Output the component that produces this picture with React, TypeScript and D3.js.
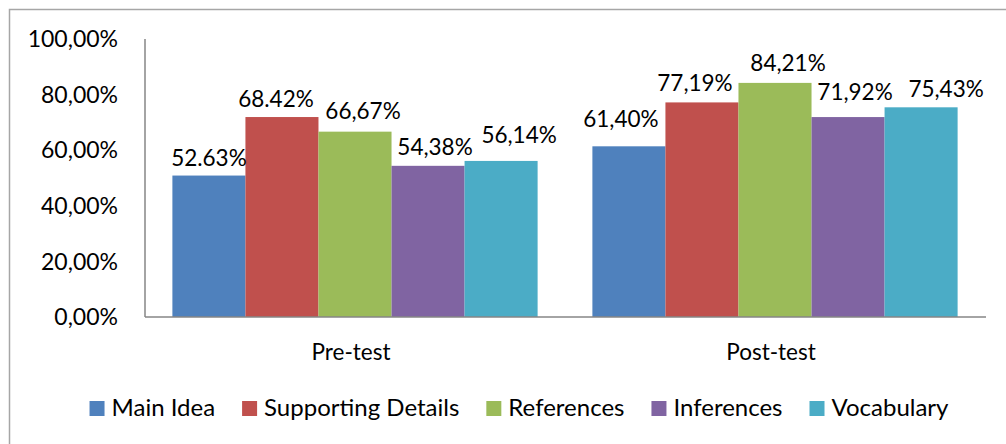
import React, { useEffect, useRef } from 'react';
import * as d3 from 'd3';

const categories = ['Pre-test', 'Post-test'];
const series = ['Main Idea', 'Supporting Details', 'References', 'Inferences', 'Vocabulary'];
const colors = ['#4F81BD', '#C0504D', '#9BBB59', '#8064A2', '#4BACC6'];

// bar heights (percent)
const preValues = [50.88, 71.93, 66.67, 54.38, 56.14];
const postValues = [61.40, 77.19, 84.21, 71.92, 75.43];

// data labels as printed on the chart
const preLabels = ['52.63%', '68.42%', '66,67%', '54,38%', '56,14%'];
const postLabels = ['61,40%', '77,19%', '84,21%', '71,92%', '75,43%'];

const yTicks = [0, 20, 40, 60, 80, 100];
const yTickLabels = ['0,00%', '20,00%', '40,00%', '60,00%', '80,00%', '100,00%'];

const W = 1006;
const H = 444;
const FONT = 'Lato, "Open Sans", sans-serif';

const App: React.FC = () => {
  const svgRef = useRef<SVGSVGElement>(null);

  useEffect(() => {
    if (!svgRef.current) return;
    document.body.style.margin = '0';
    const svg = d3.select(svgRef.current);
    svg.selectAll('*').remove();

    const plot = { left: 145, right: 985, top: 39, bottom: 317 };

    // outer chart frame (cropped on the right and bottom)
    svg.append('rect')
      .attr('x', 9.5).attr('y', 9.5)
      .attr('width', 1100).attr('height', 600)
      .attr('fill', '#fff')
      .attr('stroke', '#a6a6a6').attr('stroke-width', 1.5);

    // --- SCALES ---
    const x0 = d3.scaleBand().domain(categories).range([plot.left, plot.right]).padding(0);
    const x1 = d3.scaleBand().domain(series).range([0, x0.bandwidth()]).paddingOuter(0.375).paddingInner(0);
    const y = d3.scaleLinear().domain([0, 100]).range([plot.bottom, plot.top]);

    // --- Y TICK LABELS ---
    svg.append('g').selectAll('text')
      .data(yTicks)
      .enter()
      .append('text')
      .attr('x', 118)
      .attr('y', d => y(d))
      .attr('dy', '0.36em')
      .attr('text-anchor', 'end')
      .attr('font-family', FONT)
      .attr('font-size', 23)
      .attr('fill', '#000')
      .text((d, i) => yTickLabels[i]);

    // --- BARS ---
    const groups = [preValues, postValues];
    const labels = [preLabels, postLabels];
    // small manual label nudges seen in the original (dx, extra gap above bar)
    const nudge = [
      [[0, 0], [-6, 0], [8, 3], [7, 1], [18, 8]],
      [[-8, 9], [-7, 1], [13, 2], [7, 7], [25, 0]],
    ];

    groups.forEach((vals, gi) => {
      const gx = x0(categories[gi]) || 0;
      const g = svg.append('g').attr('transform', `translate(${gx},0)`);
      g.selectAll('rect')
        .data(vals)
        .enter()
        .append('rect')
        .attr('x', (d, i) => x1(series[i]) || 0)
        .attr('y', d => y(d))
        .attr('width', x1.bandwidth())
        .attr('height', d => y(0) - y(d))
        .attr('fill', (d, i) => colors[i]);

      g.selectAll('text')
        .data(vals)
        .enter()
        .append('text')
        .attr('x', (d, i) => (x1(series[i]) || 0) + x1.bandwidth() / 2 + nudge[gi][i][0])
        .attr('y', (d, i) => y(d) - 10 - nudge[gi][i][1])
        .attr('text-anchor', 'middle')
        .attr('font-family', FONT)
        .attr('font-size', 22.5)
        .attr('fill', '#000')
        .text((d, i) => labels[gi][i]);
    });

    // --- AXES ---
    svg.append('line')
      .attr('x1', plot.left).attr('x2', plot.left)
      .attr('y1', plot.top).attr('y2', plot.bottom)
      .attr('stroke', '#868686').attr('stroke-width', 1.5);
    svg.append('line')
      .attr('x1', plot.left).attr('x2', plot.right + 1)
      .attr('y1', plot.bottom).attr('y2', plot.bottom)
      .attr('stroke', '#868686').attr('stroke-width', 1.5);

    svg.append('g').selectAll('text')
      .data(categories)
      .enter()
      .append('text')
      .attr('x', d => (x0(d) || 0) + x0.bandwidth() / 2 - 4)
      .attr('y', 360)
      .attr('text-anchor', 'middle')
      .attr('font-family', FONT)
      .attr('font-size', 22.5)
      .attr('fill', '#000')
      .text(d => d);

    // --- LEGEND ---
    const legend = svg.append('g');
    const sq = 15, gapSq = 7, gapItem = 27;
    let cx = 0;
    series.forEach((s, i) => {
      const item = legend.append('g').attr('transform', `translate(${cx},0)`);
      item.append('rect')
        .attr('x', 0).attr('y', 401)
        .attr('width', sq).attr('height', sq)
        .attr('fill', colors[i]);
      const t = item.append('text')
        .attr('x', sq + gapSq)
        .attr('y', 416)
        .attr('font-family', FONT)
        .attr('font-size', 24)
        .attr('fill', '#000')
        .text(s);
      const tw = (t.node() as SVGTextElement).getComputedTextLength();
      cx += sq + gapSq + tw + gapItem;
    });
    const total = cx - gapItem;
    legend.attr('transform', `translate(${519 - total / 2},0)`);
  }, []);

  return (
    <svg ref={svgRef} width={W} height={H} style={{ display: 'block', background: '#fff' }} />
  );
};

export default App;
